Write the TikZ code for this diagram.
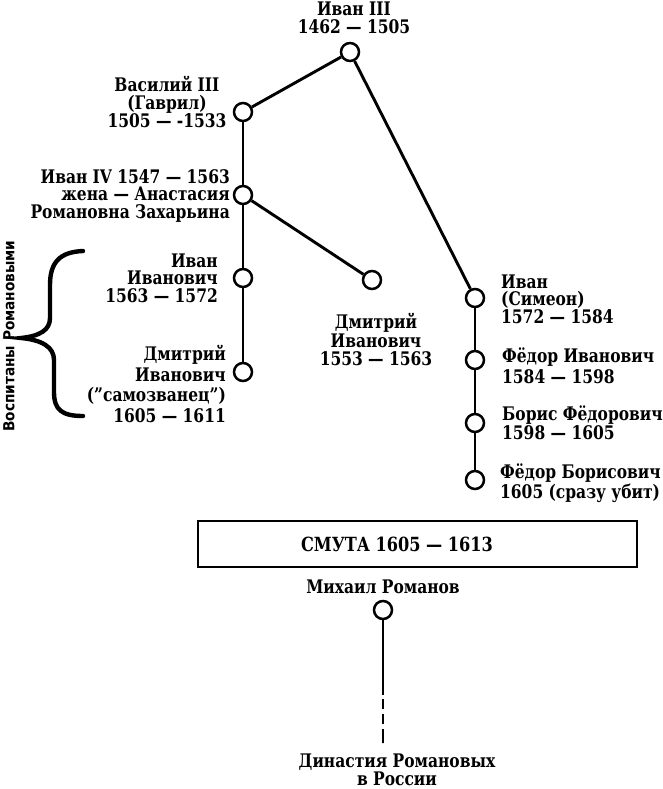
\documentclass[tikz,border=0pt]{standalone}
\usepackage{fontspec}
\setmainfont{DejaVu Serif Condensed}[BoldFont={DejaVu Serif Condensed Bold},BoldFeatures={FakeStretch=0.92}]
\newfontfamily\sidefont{DejaVu Sans Condensed Bold}
\begin{document}
\begin{tikzpicture}[x=1pt,y=-1pt,
  pers/.style={circle,draw,line width=2.5pt,minimum size=18pt,inner sep=0pt,fill=white},
  lbl/.style={inner sep=0pt,font=\bfseries\fontsize{18.7}{17.5}\selectfont},
  link/.style={line width=2.9pt}]
\useasboundingbox (0,0) rectangle (662,789);
% people
\node[pers] (ivan3) at (350,52) {};
\node[pers] (vas3) at (243,112) {};
\node[pers] (ivan4) at (243,195) {};
\node[pers] (ivaniv) at (243,278) {};
\node[pers] (dmsam) at (243,372) {};
\node[pers] (dm1553) at (372,280) {};
\node[pers] (simeon) at (475,298) {};
\node[pers] (fedor) at (475,360) {};
\node[pers] (boris) at (475,423) {};
\node[pers] (fedorb) at (475,480) {};
\node[pers] (mikh) at (383,610) {};
\coordinate (solidend) at (383,695);
\coordinate (dashend) at (383,743);
% connectors
\draw[link] (ivan3) -- (vas3);
\draw[link] (ivan3) -- (simeon);
\draw[link] (vas3) -- (ivan4);
\draw[link] (ivan4) -- (ivaniv);
\draw[link] (ivan4) -- (dm1553);
\draw[link] (ivaniv) -- (dmsam);
\draw[link] (simeon) -- (fedor);
\draw[link] (fedor) -- (boris);
\draw[link] (boris) -- (fedorb);
\draw[link] (mikh) -- (solidend);
\draw[link,dash pattern=on 0pt off 4pt on 10pt off 5pt on 10pt off 5pt on 14pt] (solidend) -- (dashend);
% labels (anchor base = baseline of the last line)
\node[lbl,align=center,anchor=base] (tivan3) at (354,33.5) {Иван III\\1462 — 1505};
\node[lbl,align=center,anchor=base] (tvas3) at (167,128) {Василий III\\(Гаврил)\\1505 — -1533};
\node[lbl,align=right,anchor=base east] (tivan4) at (230,218) {Иван IV 1547 — 1563\\жена — Анастасия\\Романовна Захарьина};
\node[lbl,align=right,anchor=base east] (tivaniv) at (218,302) {Иван\\Иванович\\1563 — 1572};
\node[lbl,align=right,anchor=base east,font=\bfseries\fontsize{18.7}{20.5}\selectfont] (tdmsam) at (226,422) {Дмитрий\\Иванович\\("самозванец")\\1605 — 1611};
\node[lbl,align=center,anchor=base] (tdm1553) at (376,365) {Дмитрий\\Иванович\\1553 — 1563};
\node[lbl,align=left,anchor=base west] (tsimeon) at (501,323) {Иван\\(Симеон)\\1572 — 1584};
\node[lbl,align=left,anchor=base west,font=\bfseries\fontsize{18.7}{21}\selectfont] (tfedor) at (502,383) {Фёдор Иванович\\1584 — 1598};
\node[lbl,align=left,anchor=base west,font=\bfseries\fontsize{18.7}{16}\selectfont] (tboris) at (502,439) {Борис Фёдорович\\1598 — 1605};
\node[lbl,align=left,anchor=base west] (tfedorb) at (500,498) {Фёдор Борисович\\1605 (сразу убит)};
\node[lbl,anchor=base] (tmikh) at (383,593) {Михаил Романов};
\node[lbl,align=center,anchor=base] (tdyn) at (397,785) {Династия Романовых\\в России};
% smuta box
\node[draw,line width=2.8pt,minimum width=439pt,minimum height=46pt,inner sep=0pt] (smutabox) at (417.5,544) {};
\node[lbl,anchor=base,font=\bfseries\fontsize{19.5}{19}\selectfont] (smuta) at (397,551) {СМУТА 1605 — 1613};
% brace
\draw[line width=4.4pt,line cap=round] (83,251) .. controls (60,252) and (50,262) .. (50,285) -- (50,318)
  .. controls (50,330) and (40,336) .. (21,338) .. controls (42,340) and (54,347) .. (54,360) -- (54,392)
  .. controls (54,410) and (62,416) .. (83,416);
\node[rotate=90,inner sep=0pt,font=\sidefont\fontsize{15.2}{15}\selectfont] (side) at (9,336) {Воспитаны Романовыми};
\end{tikzpicture}
\end{document}
